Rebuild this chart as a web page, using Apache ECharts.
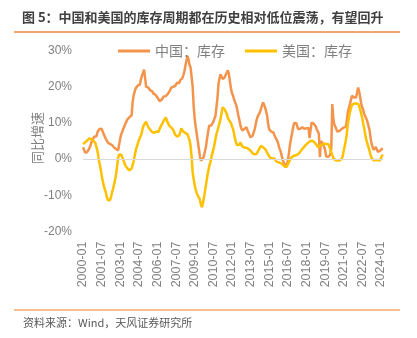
<!DOCTYPE html>
<html>
<head>
<meta charset="utf-8">
<script src="https://cdn.jsdelivr.net/npm/echarts@6/dist/echarts.min.js"></script>
<style>
  html, body { margin: 0; padding: 0; background: #ffffff; }
  #chart { width: 417px; height: 338px; }
</style>
</head>
<body>
<div id="chart"></div>
<script>
// Monthly year-on-year inventory growth (%), from 2000-01 to 2024-03
const startYear = 2000;
const monthCount = 291;

const chinaInventory = [
  3.3, 2.6, 1.8, 1.5, 1.9, 2.4, 2.9, 3.6, 4.5, 5.4, 5.9, 6.2,          // 2000
  6.5, 6.3, 7.5, 7.9, 8.3, 8.8, 8.4, 7.6, 6.9, 6.5, 5.6, 5.1,          // 2001
  4.6, 4.4, 4.2, 4.6, 3.9, 3.7, 3.2, 3.4, 2.8, 2.9, 2.4, 2.6,          // 2002
  5.8, 6.9, 7.6, 8.4, 9.1, 9.8, 10.3, 11.0, 11.4, 11.6, 11.8, 12.1,    // 2003
  15.8, 17.6, 18.7, 19.6, 20.1, 20.3, 20.2, 20.6, 22.0, 23.0, 23.8, 24.7, // 2004
  22.6, 20.0, 19.6, 19.8, 19.3, 19.0, 18.6, 18.7, 18.1, 18.3, 17.8, 17.7, // 2005
  17.0, 16.5, 16.0, 15.8, 16.4, 16.8, 17.3, 17.5, 17.4, 17.9, 18.0, 18.2, // 2006
  18.9, 19.6, 19.8, 20.0, 20.3, 20.2, 20.6, 21.1, 21.2, 21.0, 21.8, 22.1, // 2007
  22.3, 23.2, 24.2, 25.8, 27.2, 28.5, 27.6, 26.0, 25.3, 25.2, 20.0, 14.5, // 2008
  11.1, 8.8, 6.8, 4.9, 2.8, 0.8, -0.4, -0.1, 0.2, 1.0, 2.3, 3.7,       // 2009
  5.8, 7.6, 9.2, 9.6, 9.3, 9.7, 10.3, 11.2, 11.8, 12.2, 17.0, 20.8,    // 2010
  22.4, 23.4, 23.0, 22.1, 21.8, 22.6, 23.3, 23.9, 24.5, 23.6, 21.5, 19.6, // 2011
  18.2, 17.6, 16.5, 15.7, 15.0, 13.8, 12.3, 11.0, 9.6, 8.5, 7.9, 8.0,  // 2012
  8.3, 8.6, 8.8, 8.0, 7.3, 6.6, 6.0, 6.3, 6.5, 6.9, 8.3, 9.7,          // 2013
  11.0, 11.9, 12.4, 12.9, 13.3, 14.8, 15.7, 15.0, 14.3, 13.8, 12.0, 9.6, // 2014
  8.2, 7.8, 7.6, 7.3, 7.4, 6.6, 6.0, 5.6, 4.9, 3.9, 2.9, 2.2,          // 2015
  1.0, -0.2, -0.9, -1.6, -2.0, -1.5, -0.4, 1.5, 3.8, 5.5, 7.0, 8.6,    // 2016
  9.9, 10.2, 10.0, 9.5, 8.3, 8.3, 8.4, 8.2, 8.8, 8.7, 8.4, 8.6,        // 2017
  8.5, 8.8, 8.6, 5.8, 8.0, 10.1, 9.9, 9.8, 9.6, 9.0, 8.2, 7.7,         // 2018
  7.0, 0.5, 5.0, 4.6, 4.2, 4.4, 2.6, 0.8, 0.5, 0.6, 1.1, 1.2,          // 2019
  3.0, 15.2, 11.0, 9.5, 8.9, 8.2, 7.6, 7.4, 7.8, 8.1, 8.3, 8.6,        // 2020
  8.7, 8.8, 8.9, 10.5, 13.0, 14.0, 15.2, 15.7, 17.5, 18.0, 17.0, 16.8, // 2021
  17.0, 18.5, 19.8, 18.6, 17.0, 15.2, 14.3, 13.4, 12.4, 12.0, 11.1, 10.2, // 2022
  9.7, 8.0, 5.8, 4.2, 3.3, 2.6, 2.8, 3.3, 2.7, 2.0, 1.9, 2.3,          // 2023
  2.6, 2.8, 2.9                                                         // 2024
];

const usInventory = [
  4.2, 4.4, 4.6, 4.8, 5.1, 5.5, 5.7, 5.6, 5.5, 5.4, 5.1, 4.7,          // 2000
  4.4, 4.0, 2.2, 0.4, -1.2, -2.6, -4.4, -6.0, -7.2, -8.3, -9.1, -10.4, // 2001
  -11.3, -11.6, -11.4, -10.6, -9.3, -8.2, -7.0, -5.8, -4.1, -1.8, 0.4, 1.3, // 2002
  1.5, 1.2, 0.9, -0.2, -1.1, -1.8, -2.3, -2.6, -2.9, -3.1, -3.2, -2.6, // 2003
  -1.6, -0.6, 0.9, 2.4, 3.4, 4.3, 5.2, 5.7, 6.5, 7.6, 8.8, 9.5,        // 2004
  10.0, 10.3, 9.6, 8.9, 8.5, 8.1, 7.6, 7.4, 7.5, 7.3, 7.4, 7.6,        // 2005
  7.2, 7.5, 8.3, 8.9, 9.4, 10.0, 10.6, 11.1, 11.5, 10.8, 10.0, 9.4,    // 2006
  9.2, 8.8, 8.5, 8.2, 7.6, 6.8, 6.3, 6.2, 6.5, 6.6, 7.4, 8.5,          // 2007
  8.3, 7.6, 7.1, 7.2, 7.0, 6.9, 6.6, 5.2, 3.7, 0.6, -3.6, -5.6,        // 2008
  -7.2, -8.5, -9.5, -10.0, -10.6, -11.2, -12.6, -13.3, -12.1, -10.5, -8.7, -6.9, // 2009
  -5.0, -3.4, -2.0, -0.9, 0.4, 1.5, 2.6, 3.9, 5.5, 6.9, 7.9, 8.9,      // 2010
  10.0, 11.2, 12.8, 14.3, 14.1, 13.7, 13.4, 12.5, 11.4, 10.8, 10.8, 10.0, // 2011
  9.0, 8.4, 7.0, 5.6, 4.5, 3.8, 3.4, 4.0, 4.6, 4.2, 3.5, 3.3,          // 2012
  3.2, 3.1, 3.1, 3.0, 2.8, 2.6, 2.3, 2.0, 1.6, 1.4, 1.3, 1.2,          // 2013
  1.5, 2.0, 2.6, 3.1, 3.7, 3.5, 3.3, 3.1, 2.8, 2.4, 1.8, 1.2,          // 2014
  0.7, 0.4, 0.1, 0.2, 0.5, 0.2, -0.3, -0.7, -0.8, -0.9, -0.9, -1.1,    // 2015
  -1.3, -1.5, -1.8, -2.1, -2.4, -2.1, -1.5, -0.9, -0.3, 0.3, 0.6, 0.8, // 2016
  0.9, 1.0, 1.1, 1.2, 1.4, 1.6, 2.0, 2.5, 2.8, 3.1, 3.4, 3.8,          // 2017
  4.1, 4.4, 4.6, 4.8, 5.0, 5.1, 5.0, 4.8, 4.6, 4.2, 3.7, 3.3,          // 2018
  3.4, 3.7, 3.8, 4.0, 4.2, 4.3, 4.2, 4.2, 4.3, 4.2, 3.9, 2.8,          // 2019
  1.8, 1.1, 0.3, 0.0, -0.3, -0.4, -0.4, -0.5, -0.4, -0.4, 0.0, 0.7,    // 2020
  2.2, 3.6, 5.1, 6.9, 9.7, 11.3, 12.9, 14.0, 15.0, 15.2, 15.3, 15.4,   // 2021
  15.4, 15.3, 15.2, 14.6, 13.6, 12.5, 11.3, 9.7, 8.2, 6.5, 5.2, 4.1,   // 2022
  3.3, 2.2, 1.2, 0.3, 0.0, -0.4, -0.3, -0.2, -0.2, -0.3, -0.4, -0.4,   // 2023
  0.3, 0.9, 1.2                                                         // 2024
];

const seriesNames = ['中国：库存', '美国：库存'];
const yTicks = { min: -20, max: 30, step: 10 };
const labelEvery = 18; // one axis label every 18 months

// Category labels like "2000-01"
const months = [];
for (let i = 0; i < monthCount; i++) {
  const y = startYear + Math.floor(i / 12);
  const m = (i % 12) + 1;
  months.push(y + '-' + (m < 10 ? '0' + m : m));
}

const gray = '#808080';
const cjk = '"Noto Sans CJK SC", sans-serif';
const latin = '"Liberation Sans", Arial, sans-serif';
const colors = ['#F4944C', '#FFC000'];

const legendCommon = {
  top: 39,
  icon: 'rect',
  itemWidth: 32,
  itemHeight: 3,
  textStyle: { fontSize: 14, color: gray, fontFamily: cjk }
};

const chart = echarts.init(document.getElementById('chart'), null, { renderer: 'canvas' });
chart.setOption({
  animation: false,
  backgroundColor: '#ffffff',
  title: {
    text: '图 5：中国和美国的库存周期都在历史相对低位震荡，有望回升',
    left: 17,
    top: 6,
    textStyle: { fontSize: 13, fontWeight: 'bold', color: '#404040', fontFamily: cjk }
  },
  graphic: [
    { type: 'line', shape: { x1: 14, y1: 32, x2: 400, y2: 32 }, style: { stroke: '#EE8A3C', lineWidth: 1.5 } },
    { type: 'line', shape: { x1: 14, y1: 310, x2: 400, y2: 310 }, style: { stroke: '#F5A86A', lineWidth: 1.5 } },
    {
      type: 'text', left: 23, top: 317,
      style: { text: '资料来源：Wind，天风证券研究所', fontSize: 11, fill: '#595959', fontFamily: cjk }
    },
    {
      // vertical y-axis title
      type: 'text',
      x: 37, y: 138,
      rotation: Math.PI / 2,
      style: {
        text: '同比增速', fontSize: 13, fill: gray, fontFamily: cjk,
        align: 'center', verticalAlign: 'middle'
      }
    }
  ],
  legend: [
    Object.assign({ data: [seriesNames[0]], left: 113 }, legendCommon),
    Object.assign({ data: [seriesNames[1]], left: 240 }, legendCommon)
  ],
  grid: { left: 83, right: 34, top: 50.5, bottom: 106.5, containLabel: false },
  xAxis: {
    type: 'category',
    data: months,
    boundaryGap: false,
    axisLine: { show: false, onZero: false },
    axisTick: { show: false },
    axisLabel: {
      interval: labelEvery - 1,
      rotate: 90,
      margin: 10,
      fontSize: 12.5,
      color: gray,
      fontFamily: latin
    },
    splitLine: { show: false }
  },
  yAxis: {
    type: 'value',
    min: yTicks.min,
    max: yTicks.max,
    interval: yTicks.step,
    axisLine: { show: false },
    axisTick: { show: false },
    splitLine: { show: false },
    axisLabel: { formatter: '{value}%', fontSize: 12, color: gray, margin: 11, fontFamily: latin }
  },
  series: [
    {
      name: seriesNames[0],
      type: 'line',
      data: chinaInventory,
      showSymbol: false,
      symbol: 'none',
      lineStyle: { color: colors[0], width: 2.5 },
      itemStyle: { color: colors[0] },
      z: 3,
      markLine: {
        // zero baseline
        silent: true,
        symbol: 'none',
        label: { show: false },
        lineStyle: { color: '#d9d9d9', width: 1.2, type: 'solid' },
        data: [{ yAxis: 0 }]
      }
    },
    {
      name: seriesNames[1],
      type: 'line',
      data: usInventory,
      showSymbol: false,
      symbol: 'none',
      lineStyle: { color: colors[1], width: 2.5 },
      itemStyle: { color: colors[1] },
      z: 4
    }
  ]
});
</script>
</body>
</html>
